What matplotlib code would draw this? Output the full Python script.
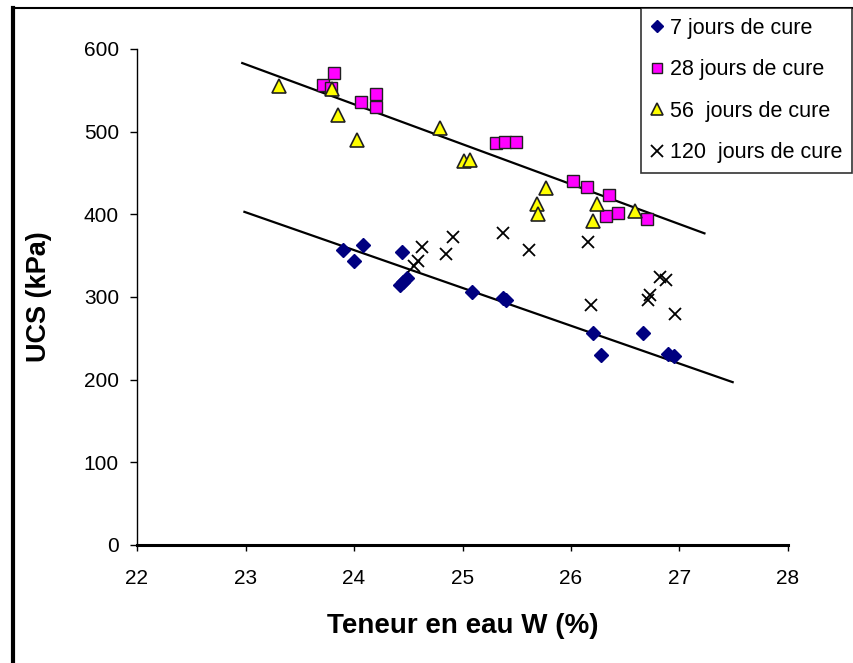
import numpy as np
import matplotlib
matplotlib.use("Agg")
import matplotlib.pyplot as plt
from matplotlib.lines import Line2D

plt.rcParams['font.family'] = ['Liberation Sans', 'DejaVu Sans']

# 7 jours de cure
w_7 = [23.90, 24.08, 24.00, 24.44, 24.42, 24.45, 24.49, 25.09, 25.37, 25.40, 26.20, 26.28, 26.66, 26.89, 26.95]
ucs_7 = [357, 363, 343, 354, 314, 318, 323, 306, 299, 296, 257, 230, 257, 231, 229]

# 28 jours de cure
w_28 = [23.71, 23.79, 23.82, 24.06, 24.20, 24.20, 25.31, 25.39, 25.49, 26.02, 26.15, 26.35, 26.32, 26.43, 26.70]
ucs_28 = [556, 553, 571, 536, 546, 530, 486, 488, 488, 440, 433, 423, 398, 402, 394]

# 56 jours de cure
w_56 = [23.31, 23.80, 23.85, 24.03, 24.79, 25.01, 25.07, 25.77, 25.69, 25.70, 26.24, 26.20, 26.59]
ucs_56 = [555, 552, 520, 490, 505, 464, 466, 432, 412, 401, 412, 392, 404]

# 120 jours de cure
w_120 = [24.55, 24.59, 24.63, 24.85, 24.91, 25.37, 25.61, 26.16, 26.18, 26.71, 26.73, 26.82, 26.88, 26.96]
ucs_120 = [338, 343, 360, 352, 372, 377, 357, 367, 290, 296, 303, 324, 321, 279]

# trend lines (end points)
trend_hi_w = [22.97, 27.23]
trend_hi_ucs = [583, 377]
trend_lo_w = [22.99, 27.49]
trend_lo_ucs = [403, 197]

fig = plt.figure(figsize=(8.54, 6.63), dpi=100)
ax = fig.add_axes([137 / 854, 1 - 545 / 663, (788 - 137) / 854, (545 - 49) / 663])

ax.plot(trend_hi_w, trend_hi_ucs, color='black', lw=1.6, zorder=2)
ax.plot(trend_lo_w, trend_lo_ucs, color='black', lw=1.6, zorder=2)

ax.plot(w_7, ucs_7, ls='none', marker='D', ms=7, color='#000080', mec='#000080',
        label='7 jours de cure', zorder=3)
ax.plot(w_28, ucs_28, ls='none', marker='s', ms=8, color='#FF00FF', mec='#202020', mew=1.0,
        label='28 jours de cure', zorder=3)
ax.plot(w_56, ucs_56, ls='none', marker='^', ms=9.5, color='#FFFF00', mec='#202020', mew=1.2,
        label='56  jours de cure', zorder=3)
ax.plot(w_120, ucs_120, ls='none', marker='x', ms=9, color='black', mew=1.3,
        label='120  jours de cure', zorder=3)

ax.set_xlim(22, 28)
ax.set_ylim(0, 600)
ax.set_xticks(np.arange(22, 29, 1))
ax.set_yticks(np.arange(0, 700, 100))
ax.spines['top'].set_visible(False)
ax.spines['right'].set_visible(False)
ax.spines['left'].set_linewidth(1.0)
ax.spines['bottom'].set_linewidth(2.2)
ax.tick_params(axis='y', direction='out', length=5, width=1, labelsize=15, pad=8)
ax.tick_params(axis='x', direction='out', length=4, width=1, labelsize=15, pad=13)

ax.set_xlabel('Teneur en eau W (%)', fontsize=20, fontweight='bold', labelpad=18)
ax.set_ylabel('UCS (kPa)', fontsize=19.5, fontweight='bold')
ax.yaxis.set_label_coords(-0.13, 0.5)

leg = fig.legend(loc='upper left', bbox_to_anchor=(641 / 854, 1 - 8 / 663),
                 fontsize=15.5, frameon=True, fancybox=False, handlelength=0.6,
                 handletextpad=0.3, borderpad=0.45, labelspacing=0.95,
                 borderaxespad=0, markerscale=0.9)
leg.get_frame().set_edgecolor('black')
leg.get_frame().set_linewidth(1.2)

# outer chart border
fig.add_artist(Line2D([13 / 854, 13 / 854], [0, 1 - 8 / 663], transform=fig.transFigure,
                      color='black', lw=3))
fig.add_artist(Line2D([13 / 854, 1], [1 - 8 / 663, 1 - 8 / 663], transform=fig.transFigure,
                      color='black', lw=1.5))

fig.savefig('out.png', dpi=100)
